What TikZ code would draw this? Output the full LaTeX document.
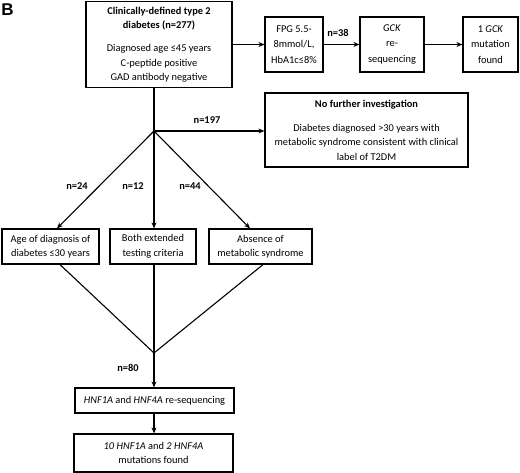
\documentclass[tikz,border=0pt]{standalone}
\usepackage{fontspec}
\setmainfont{Carlito}
\newfontfamily\labelfont{Liberation Sans}
\usetikzlibrary{arrows.meta}
\tikzset{
  box/.style={draw, line width=1.2pt, inner sep=0pt, align=center, font=\fontsize{10.4}{14.5}\selectfont},
  lbl/.style={font=\bfseries\fontsize{10.4}{12}\selectfont, inner sep=0pt},
  conn/.style={line width=1.1pt},
  arr/.style={line width=1.1pt, -{Stealth[length=6pt,width=5pt]}}
}
\begin{document}
\begin{tikzpicture}[x=1pt,y=-1pt]
\useasboundingbox (0,0) rectangle (520,473);
\node[inner sep=0pt, font=\labelfont\bfseries\fontsize{17}{17}\selectfont] (B) at (7.5,9.5) {B};
% top row
\node[box, minimum width=146pt, minimum height=86pt] (main) at (159,44.5)
  {\textbf{Clinically-defined type 2}\\\textbf{diabetes (n=277)}\\[8.5pt]Diagnosed age ≤45 years\\C-peptide positive\\GAD antibody negative};
\node[box, minimum width=58pt, minimum height=55pt, font=\fontsize{10.4}{15.5}\selectfont] (fpg) at (294,44.5)
  {FPG 5.5-\\8mmol/L,\\HbA1c≤8\%};
\node[box, minimum width=64pt, minimum height=55pt, font=\fontsize{10.4}{15.5}\selectfont] (gck) at (392,44.5)
  {\textit{GCK}\\re-\\sequencing};
\node[box, minimum width=55pt, minimum height=55pt, font=\fontsize{10.4}{15.5}\selectfont] (gckm) at (490.5,44.5)
  {1 \textit{GCK}\\mutation\\found};
\node[box, minimum width=203pt, minimum height=74pt] (nofur) at (366.5,130)
  {\textbf{No further investigation}\\[9.5pt]Diabetes diagnosed >30 years with\\metabolic syndrome consistent with clinical\\label of T2DM};
% middle row
\node[box, minimum width=97pt, minimum height=35pt] (age) at (50.5,246.5)
  {Age of diagnosis of\\diabetes ≤30 years};
\node[box, minimum width=86pt, minimum height=35pt] (both) at (153,246.5)
  {Both extended\\testing criteria};
\node[box, minimum width=103pt, minimum height=35pt] (abs) at (260.5,246.5)
  {Absence of\\metabolic syndrome};
% bottom
\node[box, minimum width=159pt, minimum height=25pt] (hnf) at (154.5,400.5)
  {\textit{HNF1A} and \textit{HNF4A} re-sequencing};
\node[box, minimum width=159pt, minimum height=38pt] (found) at (153.5,453)
  {\textit{10 HNF1A} and \textit{2 HNF4A}\\mutations found};
% coordinates
\coordinate (branch) at (154,131);
\coordinate (merge) at (154,353);
% connectors
\draw[arr] (main.east) -- (main.east -| fpg.west);
\draw[arr] (fpg.east) -- (gck.west);
\draw[arr] (gck.east) -- (gckm.west);
\draw[conn] (main.south -| branch) -- (branch);
\draw[arr] (branch) -- (branch -| nofur.west);
\draw[arr] (branch) -- ([xshift=6.5pt]age.north);
\draw[arr] (branch) -- (branch |- both.north);
\draw[arr] (branch) -- ([xshift=-10.5pt]abs.north);
\draw[conn] ([xshift=9.5pt]age.south) -- (merge);
\draw[conn] (merge |- both.south) -- (merge);
\draw[conn] ([xshift=2.5pt]abs.south) -- (merge);
\draw[arr] (merge) -- (merge |- hnf.north);
\draw[arr] (merge |- hnf.south) -- (merge |- found.north);
% labels
\node[lbl] (l38) at (338,33) {n=38};
\node[lbl] (l197) at (207,120) {n=197};
\node[lbl] (l24) at (77,186) {n=24};
\node[lbl] (l12) at (133,186) {n=12};
\node[lbl] (l44) at (190,186) {n=44};
\node[lbl] (l80) at (128,368) {n=80};
\end{tikzpicture}
\end{document}
